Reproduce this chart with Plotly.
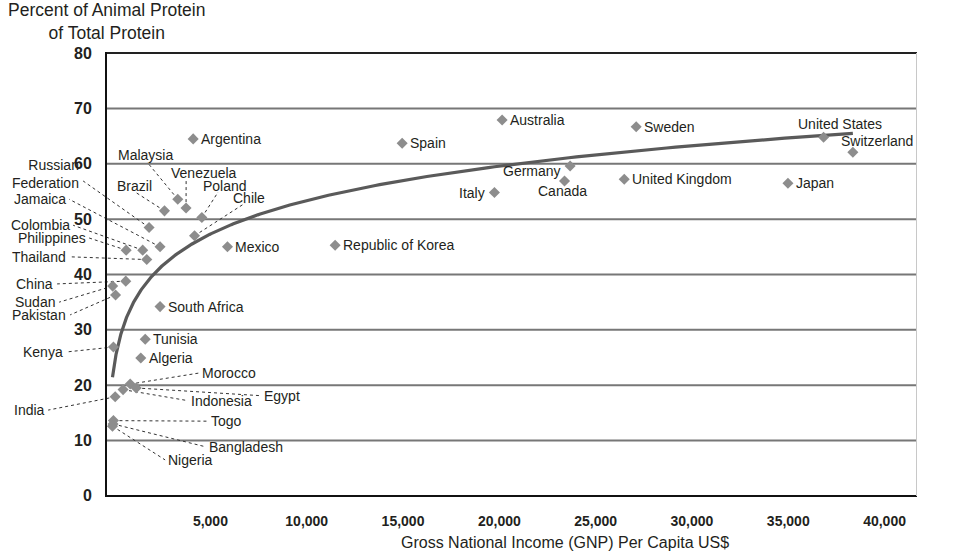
import numpy as np
import plotly.graph_objects as go

# ---------------- data ----------------
countries = [
    "Argentina", "Spain", "Australia", "Sweden", "United States", "Switzerland",
    "Japan", "United Kingdom", "Germany", "Canada", "Italy", "Republic of Korea",
    "Mexico", "Chile", "Poland", "Venezuela", "Malaysia", "Brazil",
    "Russian Federation", "Jamaica", "Colombia", "Philippines", "Thailand",
    "China", "Sudan", "Pakistan", "South Africa", "Tunisia", "Kenya", "Algeria",
    "Morocco", "Egypt", "Indonesia", "India", "Togo", "Bangladesh", "Nigeria",
]
gnp_per_capita = [
    4520, 15370, 20560, 27520, 37250, 38770,
    35400, 26900, 24090, 23800, 20160, 11890,
    6300, 4590, 4970, 4150, 3720, 3030,
    2230, 2800, 1900, 1040, 2110,
    1020, 340, 490, 2800, 2030, 380, 1800,
    1250, 1560, 880, 470, 380, 360, 330,
]
animal_protein_pct = [
    64.5, 63.7, 67.9, 66.7, 64.8, 62.1,
    56.5, 57.2, 59.6, 56.9, 54.8, 45.3,
    45.0, 47.0, 50.3, 52.0, 53.6, 51.5,
    48.5, 45.0, 44.4, 44.4, 42.7,
    38.8, 37.9, 36.3, 34.2, 28.3, 26.9, 24.9,
    20.2, 19.5, 19.2, 17.9, 13.6, 13.0, 12.6,
]

x_ticks = [5000, 10000, 15000, 20000, 25000, 30000, 35000, 40000]
y_ticks = [0, 10, 20, 30, 40, 50, 60, 70, 80]

# ---------------- layout settings ----------------
X_MIN, X_MAX = -5250, 42100
Y_MIN, Y_MAX = -0.2, 80.2
FONT = "Arial, Liberation Sans, Helvetica, sans-serif"
TXT = "#231f20"

# labels placed next to their marker: (xanchor, xshift, yshift)
direct_labels = {
    "Argentina": ("left", 6, 0), "Spain": ("left", 6, 0),
    "Australia": ("left", 6, 0), "Sweden": ("left", 6, 0),
    "Japan": ("left", 6, 0), "United Kingdom": ("left", 6, 0),
    "Mexico": ("left", 6, 0), "Republic of Korea": ("left", 6, 0),
    "South Africa": ("left", 6, 0), "Tunisia": ("left", 6, 0),
    "Algeria": ("left", 6, 0),
    "United States": ("center", 16, 13), "Switzerland": ("center", 24, 11),
    "Germany": ("right", -7, -5), "Canada": ("center", -2, -10),
    "Italy": ("right", -7, 0),
}
# labels with dotted leaders: text, text x, text y, xanchor, leader end x, leader end y
leader_labels = {
    "Russian Federation": ("Russian<br>Federation", -1298, 58.1, "right", -1194, 56.9),
    "Jamaica": ("Jamaica", -1973, 53.6, "right", -1921, 53.6),
    "Colombia": ("Colombia", -1765, 48.9, "right", -1713, 48.9),
    "Philippines": ("Philippines", -935, 46.6, "right", -883, 46.6),
    "Thailand": ("Thailand", -1973, 43.2, "right", -1921, 43.2),
    "China": ("China", -2648, 38.3, "right", -2544, 38.3),
    "Sudan": ("Sudan", -2544, 35.0, "right", -2440, 35.0),
    "Pakistan": ("Pakistan", -1973, 32.7, "right", -1869, 32.7),
    "Kenya": ("Kenya", -2129, 26.0, "right", -2077, 26.0),
    "India": ("India", -3063, 15.5, "right", -3011, 15.5),
    "Morocco": ("Morocco", 4881, 22.2, "left", 4829, 22.2),
    "Egypt": ("Egypt", 8100, 18.1, "left", 8048, 18.1),
    "Indonesia": ("Indonesia", 4309, 17.2, "left", 4257, 17.2),
    "Togo": ("Togo", 5348, 13.5, "left", 5296, 13.5),
    "Bangladesh": ("Bangladesh", 5244, 8.85, "left", 5192, 8.85),
    "Nigeria": ("Nigeria", 3115, 6.5, "left", 3063, 6.5),
    "Malaysia": ("Malaysia", 2051, 61.6, "center", 2129, 60.3),
    "Brazil": ("Brazil", 1480, 56.0, "center", 1506, 54.9),
    "Venezuela": ("Venezuela", 5088, 58.3, "center", 4154, 57.1),
    "Poland": ("Poland", 6153, 56.0, "center", 5815, 54.9),
    "Chile": ("Chile", 7425, 53.8, "center", 7217, 52.9),
}

fig = go.Figure()

# dotted leader lines
lx, ly = [], []
for name, x, y in zip(countries, gnp_per_capita, animal_protein_pct):
    if name in leader_labels:
        _, _, _, _, ex, ey = leader_labels[name]
        lx += [x, ex, None]
        ly += [y, ey, None]
fig.add_trace(go.Scatter(x=lx, y=ly, mode="lines", hoverinfo="skip",
                         line=dict(color="#333333", width=1, dash="dot"),
                         showlegend=False))

# logarithmic trend line fitted to the data
lnx = np.log(np.array(gnp_per_capita, dtype=float))
coef = np.polyfit(lnx, np.array(animal_protein_pct, dtype=float), 1)
xs = np.geomspace(min(gnp_per_capita), max(gnp_per_capita), 300)
fig.add_trace(go.Scatter(x=xs, y=coef[0] * np.log(xs) + coef[1], mode="lines",
                         line=dict(color="#5a5a5a", width=3.2), hoverinfo="skip",
                         showlegend=False))

# markers
fig.add_trace(go.Scatter(x=gnp_per_capita, y=animal_protein_pct, mode="markers",
                         text=countries, hoverinfo="text",
                         marker=dict(symbol="diamond", size=8.5, color="#8d8d8d",
                                     line=dict(width=0)),
                         showlegend=False))

annotations = []
for name, x, y in zip(countries, gnp_per_capita, animal_protein_pct):
    if name in direct_labels:
        xa, xsft, ysft = direct_labels[name]
        annotations.append(dict(x=x, y=y, xref="x", yref="y", text=name,
                                showarrow=False, xanchor=xa, yanchor="middle",
                                xshift=xsft, yshift=ysft,
                                font=dict(family=FONT, size=14, color=TXT)))
    elif name in leader_labels:
        txt, tx, ty, xa, _, _ = leader_labels[name]
        annotations.append(dict(x=tx, y=ty, xref="x", yref="y", text=txt,
                                showarrow=False, xanchor=xa, yanchor="middle",
                                align="right" if xa == "right" else "left",
                                font=dict(family=FONT, size=14, color=TXT)))

# axis titles
annotations.append(dict(x=(0 - X_MIN) / (X_MAX - X_MIN), y=1, xref="paper", yref="paper",
                        text="Percent of Animal Protein<br>of Total Protein",
                        showarrow=False, xanchor="center", yanchor="bottom", yshift=7,
                        font=dict(family=FONT, size=17.5, color=TXT)))
annotations.append(dict(x=0.614, y=0, xref="paper", yref="paper",
                        text="Gross National Income (GNP) Per Capita US$",
                        showarrow=False, xanchor="center", yanchor="top", yshift=-35,
                        font=dict(family=FONT, size=16, color=TXT)))

# grid lines / frame
shapes = []
for v in y_ticks:
    if v == 0:
        col, w = "#111111", 2
    elif v == 80:
        col, w = "#222222", 2
    else:
        col, w = "#777777", 2
    shapes.append(dict(type="line", xref="x", yref="y", x0=0, x1=X_MAX, y0=v, y1=v,
                       line=dict(color=col, width=w), layer="below"))
shapes.append(dict(type="line", xref="x", yref="y", x0=X_MAX, x1=X_MAX,
                   y0=0, y1=y_ticks[-1], line=dict(color="#c8c8c8", width=2),
                   layer="below"))

fig.update_layout(
    width=955, height=553,
    margin=dict(l=5, r=38, t=52, b=56),
    paper_bgcolor="white", plot_bgcolor="white",
    annotations=annotations, shapes=shapes,
    font=dict(family=FONT, color=TXT),
    xaxis=dict(range=[X_MIN, X_MAX], showgrid=False, zeroline=False, showline=False,
               tickvals=x_ticks, tickformat=",d", ticks="",
               tickfont=dict(family=FONT, size=14, color=TXT, weight="bold"),
               ticklabelshift=8, ticklabelstandoff=14),
    yaxis=dict(range=[Y_MIN, Y_MAX], anchor="free",
               position=(0 - X_MIN) / (X_MAX - X_MIN),
               showgrid=False, zeroline=False, showline=True, linecolor="#111111",
               linewidth=2, tickvals=y_ticks, ticks="",
               tickfont=dict(family=FONT, size=16, color=TXT, weight="bold"),
               ticklabelstandoff=10),
)

fig.write_html("out.html", config={"displayModeBar": False},
               post_script="document.body.style.margin='0px';")
